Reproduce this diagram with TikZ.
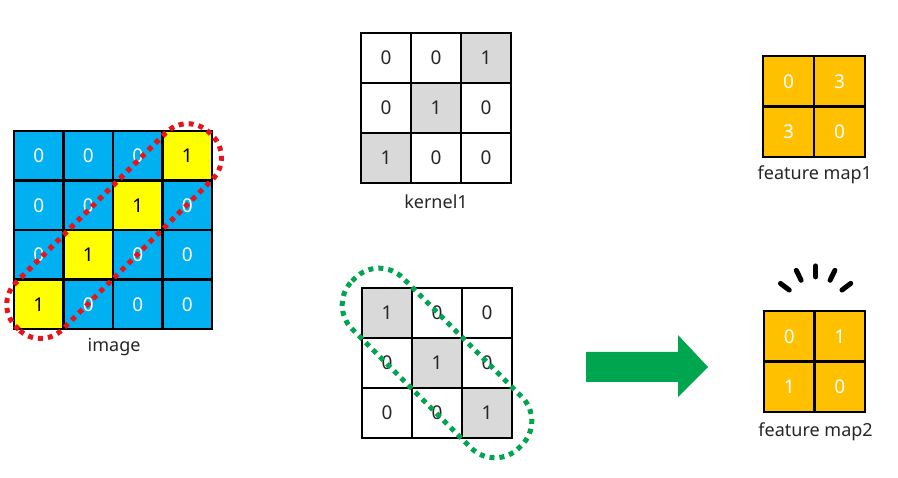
\documentclass[tikz,border=0pt]{standalone}
\usepackage{fontspec}
\setmainfont{Noto Sans}
\usetikzlibrary{positioning}
\definecolor{imgblue}{HTML}{00B0F0}
\definecolor{imgyellow}{HTML}{FFFF00}
\definecolor{kergray}{HTML}{D9D9D9}
\definecolor{maporange}{HTML}{FFC000}
\definecolor{dotred}{HTML}{E8141B}
\definecolor{dotgreen}{HTML}{00A550}
\tikzset{
  cell/.style = {draw=black, line width=2.2pt, inner sep=0pt,
    font=\fontsize{19}{19}\selectfont},
  img_cell_0/.style = {cell, fill=imgblue, text=white, minimum size=49.5pt},% image, 0
  img_cell_1/.style = {cell, fill=imgyellow, text=black, minimum size=49.5pt},% image, 1
  ker_cell_0/.style = {cell, fill=white, text=black!85, minimum size=50pt},% kernel, 0
  ker_cell_1/.style = {cell, fill=kergray, text=black!85, minimum size=50pt},% kernel, 1
  map_cell/.style = {cell, fill=maporange, text=white, minimum size=50.5pt},% feature map
  caption/.style = {font=\fontsize{18}{18}\selectfont, text=black!85},
  red_dots/.style = {draw=dotred, line width=5pt, dash pattern=on 5pt off 5pt},
  green_dots/.style = {draw=dotgreen, line width=5pt, dash pattern=on 5pt off 5pt},
  tick_mark/.style = {line width=5pt, line cap=round}
}
\begin{document}
\begin{tikzpicture}[x=1pt, y=-1pt]
    \useasboundingbox (0,0) rectangle (898,478);
    % image
    \foreach \vals [count=\r] in {{0,0,0,1},{0,0,1,0},{0,1,0,0},{1,0,0,0}}
      \foreach \v [count=\c] in \vals
        \node [img_cell_\v] (img-\r-\c) at ({14+49.5*(\c-0.5)}, {131+49.5*(\r-0.5)}) {\v};
    \node [caption, below=5pt of img-4-2.south east] (img-label) {image};
    % kernel1
    \foreach \vals [count=\r] in {{0,0,1},{0,1,0},{1,0,0}}
      \foreach \v [count=\c] in \vals
        \node [ker_cell_\v] (ka-\r-\c) at ({361+50*(\c-0.5)}, {33+50*(\r-0.5)}) {\v};
    \node [caption, below=7pt of ka-3-2.south] (ka-label) {kernel1};
    % kernel2
    \foreach \vals [count=\r] in {{1,0,0},{0,1,0},{0,0,1}}
      \foreach \v [count=\c] in \vals
        \node [ker_cell_\v] (kb-\r-\c) at ({362+50*(\c-0.5)}, {288+50*(\r-0.5)}) {\v};
    % feature map1
    \foreach \vals [count=\r] in {{0,3},{3,0}}
      \foreach \v [count=\c] in \vals
        \node [map_cell] (fma-\r-\c) at ({763+51*(\c-0.5)}, {56+50.5*(\r-0.5)}) {\v};
    \node [caption, below=4pt of fma-2-1.south east] (fma-label) {feature map1};
    % feature map2
    \foreach \vals [count=\r] in {{0,1},{1,0}}
      \foreach \v [count=\c] in \vals
        \node [map_cell] (fmb-\r-\c) at ({764+50.5*(\c-0.5)}, {311+50.5*(\r-0.5)}) {\v};
    \node [caption, below=6pt of fmb-2-1.south east] (fmb-label) {feature map2};
    % dotted rings round the diagonals
    \coordinate (img-mid) at (img-2-2.south east);
    \coordinate (kb-mid) at (kb-2-2.center);
    \draw [red_dots, rounded corners=31pt, shift={(img-mid)}, rotate=45]
      (-137pt,-33pt) rectangle (137pt,33pt);
    \draw [green_dots, rounded corners=34pt, shift={(kb-mid)}, rotate=-45]
      (-118pt,-36pt) rectangle (118pt,36pt);
    % little burst over feature map2
    \coordinate (burst) at (fmb-1-1.north east);
    \foreach \a in {37,64,90,116,143}
      \draw [tick_mark, shift={(burst)}] (\a:33pt) -- (\a:44pt);
    % arrow
    \fill [dotgreen] (586,352) -- (678,352) -- (678,335) -- (708,367)
      -- (678,397) -- (678,382) -- (586,382) -- cycle;
\end{tikzpicture}
\end{document}
